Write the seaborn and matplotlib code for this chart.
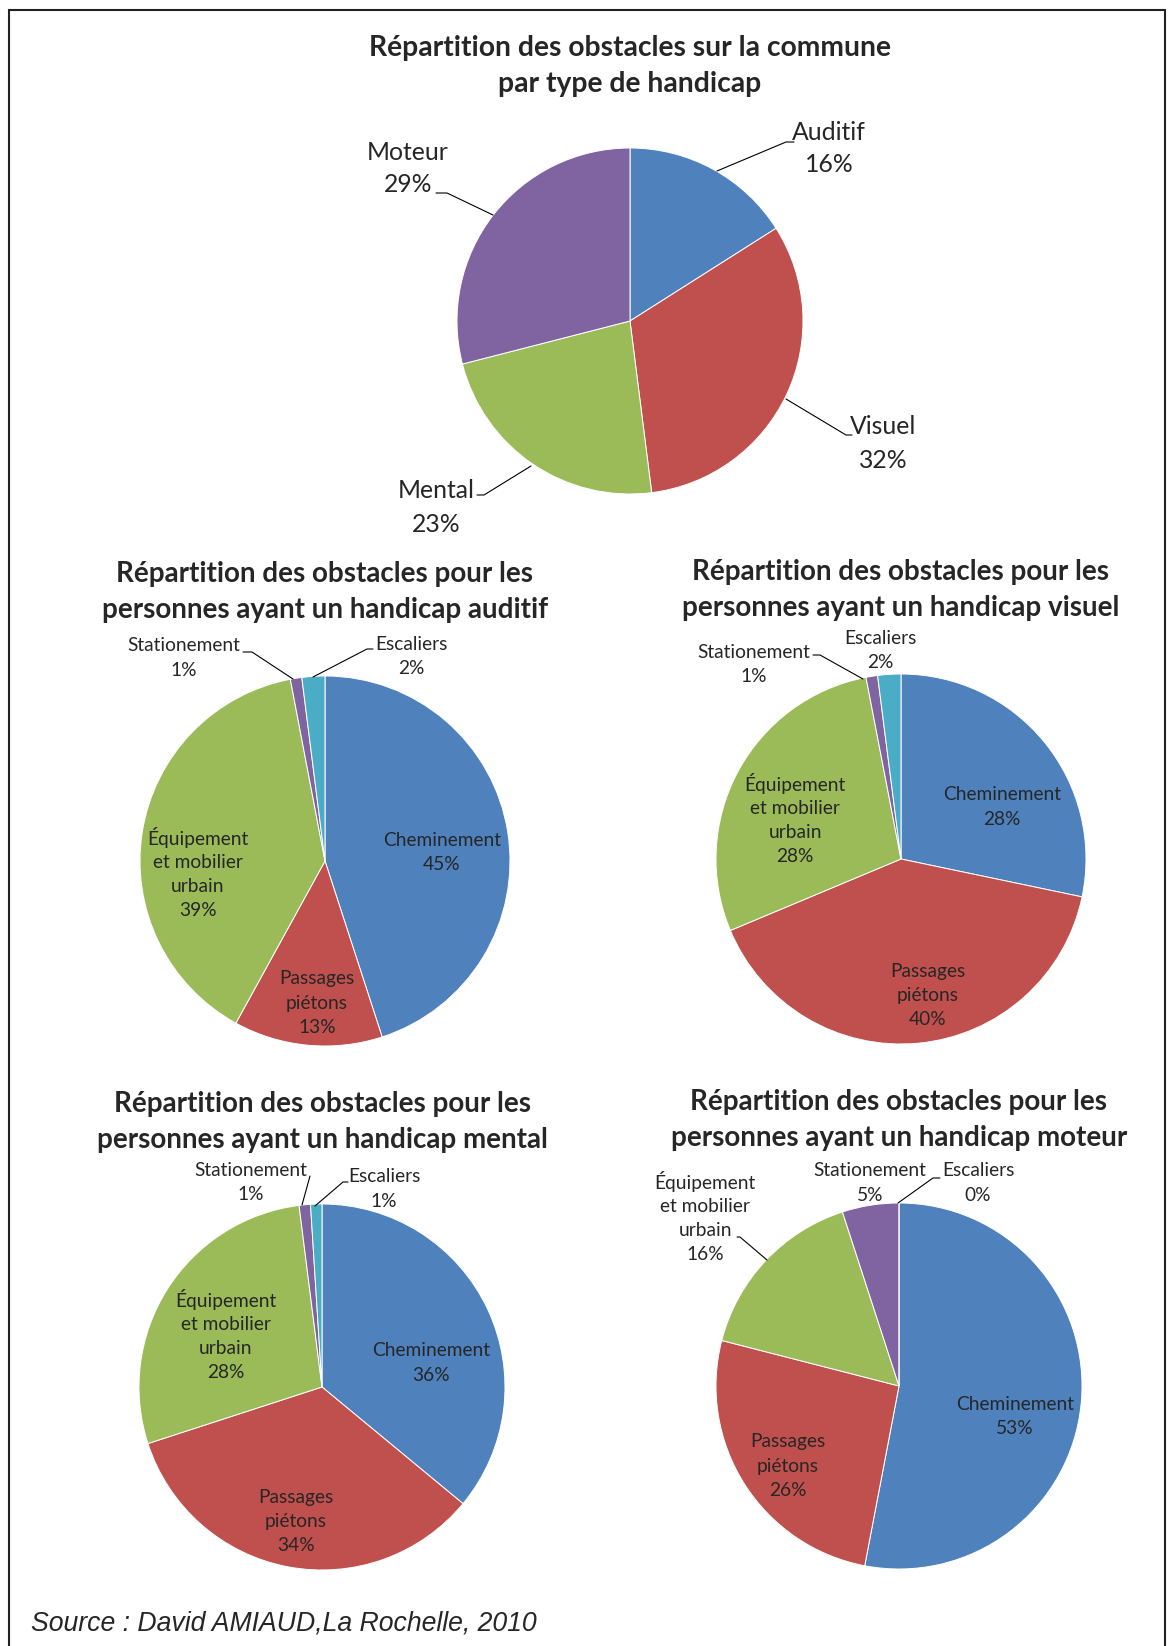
import matplotlib
matplotlib.use("Agg")
import matplotlib.pyplot as plt
import seaborn as sns
from matplotlib.lines import Line2D
from matplotlib.patches import Rectangle

# --- data ---
handicaps = ["Auditif", "Visuel", "Mental", "Moteur"]
handicap_pct = [16, 32, 23, 29]

obstacles = ["Cheminement", "Passages\npiétons", "Équipement\net mobilier\nurbain",
             "Stationement", "Escaliers"]
auditif_pct = [45, 13, 39, 1, 2]
visuel_pct = [28, 40, 28, 1, 2]
mental_pct = [36, 34, 28, 1, 1]
moteur_pct = [53, 26, 16, 5, 0]

main_title = "Répartition des obstacles sur la commune\npar type de handicap"
sub_titles = ["Répartition des obstacles pour les\npersonnes ayant un handicap auditif",
              "Répartition des obstacles pour les\npersonnes ayant un handicap visuel",
              "Répartition des obstacles pour les\npersonnes ayant un handicap mental",
              "Répartition des obstacles pour les\npersonnes ayant un handicap moteur"]
source = "Source : David AMIAUD,La Rochelle, 2010"

colors = sns.color_palette(["#4F81BD", "#C0504D", "#9BBB59", "#8064A2", "#4BACC6"])
top_colors = [colors[0], colors[1], colors[2], colors[3]]

# --- layout (pixels) ---
W, H = 1168, 1646
sns.set_theme(style="white")
plt.rcParams["font.family"] = ["Lato", "DejaVu Sans"]

fig = plt.figure(figsize=(W / 100, H / 100), dpi=100)


def fx(x):
    return x / W


def fy(y):
    return 1 - y / H


def draw_pie(values, cols, cx, cy, r):
    ax = fig.add_axes([fx(cx - r), fy(cy + r), 2 * r / W, 2 * r / H])
    ax.pie(values, colors=cols, startangle=90, counterclock=False,
           wedgeprops=dict(edgecolor="white", linewidth=0.7))
    ax.set_xlim(-1, 1)
    ax.set_ylim(-1, 1)
    ax.set_aspect("equal")
    ax.axis("off")
    return ax


def block(x, y, lines, step, **kw):
    for i, s in enumerate(lines):
        fig.text(fx(x), fy(y + i * step), s, ha="center", va="center", **kw)


def leader(pts):
    fig.add_artist(Line2D([fx(p[0]) for p in pts], [fy(p[1]) for p in pts],
                          transform=fig.transFigure, color="black", lw=0.8))


# frame
fig.add_artist(Rectangle((fx(9), fy(1660)), fx(1165) - fx(9), fy(10) - fy(1660),
                         transform=fig.transFigure, fill=False, edgecolor="#222222", lw=1.5))

# top pie
draw_pie(handicap_pct, top_colors, 630, 321, 173)
block(630, 48, main_title.split("\n"), 36, fontsize=20.3, fontweight="bold")
top_pos = [(829, 132), (883, 427), (436, 491), (408, 152)]
for name, v, (x, y) in zip(handicaps, handicap_pct, top_pos):
    block(x, y, [name, f"{v}%"], 33, fontsize=17.8)
leader([(717, 171), (786, 142), (794, 142)])
leader([(786, 399), (846, 435), (852, 435)])
leader([(531, 466), (484, 495), (477, 495)])
leader([(493, 215), (447, 193), (436, 193)])

# small pies
small = [
    (auditif_pct, (325, 861, 185), (325, 574),
     [(442, 840), (317, 979), (198, 838), (184, 646), (411, 644)],
     [[(243, 652), (252, 652), (293, 679)], [(373, 649), (367, 649), (313, 677)]]),
    (visuel_pct, (901, 859, 185), (901, 572),
     [(1002, 795), (928, 971), (795, 784), (754, 652), (880, 638)],
     [[(813, 655), (820, 655), (863, 679)]]),
    (mental_pct, (322, 1387, 183), (322, 1104),
     [(431, 1351), (296, 1497), (226, 1300), (251, 1170), (384, 1177)],
     [[(310, 1176), (302, 1205)], [(348, 1182), (343, 1182), (315, 1206)]]),
    (moteur_pct, (899, 1386, 183), (899, 1102),
     [(1015, 1404), (788, 1442), (705, 1182), (870, 1171), (978, 1171)],
     [[(737, 1237), (740, 1237), (767, 1260)], [(940, 1178), (933, 1178), (898, 1203)]]),
]

for (vals, (cx, cy, r), (tx, ty), pos, lines), title in zip(small, sub_titles):
    draw_pie(vals, colors, cx, cy, r)
    block(tx, ty, title.split("\n"), 36, fontsize=20, fontweight="bold")
    for name, v, (x, y) in zip(obstacles, vals, pos):
        block(x, y, name.split("\n") + [f"{v}%"], 24.3, fontsize=13.8)
    for pts in lines:
        leader(pts)

fig.text(fx(31), fy(1624), source, ha="left", va="center", fontsize=19.2,
         style="italic", family="Liberation Sans")

fig.savefig("out.png", dpi=100)
